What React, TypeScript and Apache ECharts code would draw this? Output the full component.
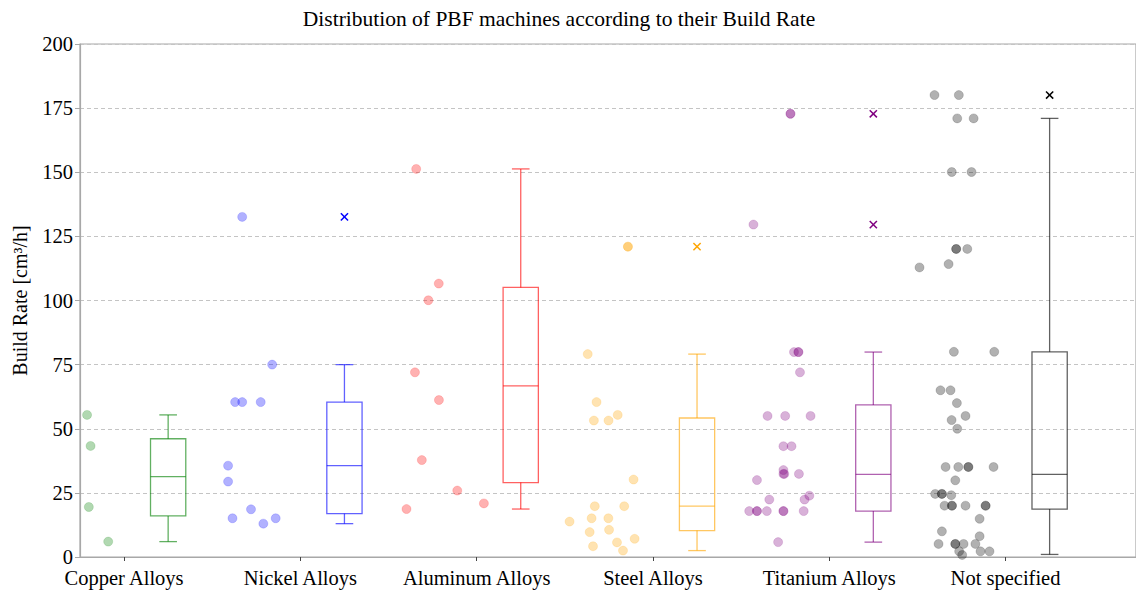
import React, { useEffect, useRef } from "react";
import * as echarts from "echarts";

const categories = [
  "Copper Alloys",
  "Nickel Alloys",
  "Aluminum Alloys",
  "Steel Alloys",
  "Titanium Alloys",
  "Not specified",
];

const yTicks = [0, 25, 50, 75, 100, 125, 150, 175, 200];

// Scatter values (Build Rate, cm³/h) and their horizontal jitter around each category
const copperValues = [55.4, 43.3, 19.5, 6.0];
const copperJitter = [-0.21, -0.19, -0.2, -0.09];

const nickelValues = [132.6, 75.0, 60.4, 60.4, 60.4, 35.6, 29.4, 18.6, 15.1, 15.1, 13.0];
const nickelJitter = [-0.33, -0.16, -0.37, -0.33, -0.225, -0.41, -0.41, -0.28, -0.385, -0.14, -0.21];

const aluminumValues = [151.3, 106.6, 100.1, 72.0, 61.2, 37.8, 25.9, 20.9, 18.7];
const aluminumJitter = [-0.343, -0.215, -0.274, -0.35, -0.214, -0.311, -0.11, 0.041, -0.398];

const steelValues = [121.0, 121.0, 79.1, 60.4, 55.4, 53.2, 53.2, 30.2, 19.8, 19.8, 13.8, 15.1, 15.1, 9.7, 10.6, 7.1, 4.2, 5.7, 2.5];
const steelJitter = [-0.142, -0.142, -0.37, -0.32, -0.2, -0.335, -0.252, -0.11, -0.33, -0.163, -0.473, -0.348, -0.253, -0.359, -0.249, -0.104, -0.34, -0.204, -0.17];

const titaniumValues = [
  172.8, 172.8, 129.6, 79.9, 79.9, 79.9, 72.0, 55.0, 55.0, 55.0, 43.2, 43.2, 33.9, 32.4, 32.4, 32.4,
  30.0, 22.4, 22.4, 23.9, 17.9, 17.9, 17.9, 17.9, 17.9, 17.9, 17.9, 5.8,
];
const titaniumJitter = [
  -0.22, -0.22, -0.43, -0.2, -0.175, -0.175, -0.166, -0.35, -0.25, -0.106, -0.26, -0.214, -0.26, -0.26, -0.255, -0.172,
  -0.41, -0.34, -0.14, -0.113, -0.454, -0.41, -0.41, -0.354, -0.26, -0.26, -0.145, -0.29,
];

const notSpecifiedValues = [
  180.1, 180.1, 171.0, 171.0, 150.1, 150.1, 120.1, 120.1, 120.1, 114.2, 112.9, 80.0, 80.0, 65.0, 65.0, 60.0,
  55.0, 53.4, 50.0, 35.1, 35.1, 35.1, 35.1, 35.1, 29.9, 24.6, 24.6, 24.6, 24.1, 20.0, 20.0, 20.0, 20.0, 20.0,
  20.0, 14.9, 10.0, 8.1, 5.1, 5.1, 5.1, 5.1, 5.1, 2.2, 2.2, 2.2, 0.8,
];
const notSpecifiedJitter = [
  -0.403, -0.265, -0.274, -0.181, -0.305, -0.193, -0.28, -0.28, -0.217, -0.323, -0.488, -0.293, -0.064, -0.369, -0.312, -0.276,
  -0.227, -0.306, -0.274, -0.34, -0.268, -0.211, -0.211, -0.068, -0.285, -0.399, -0.361, -0.361, -0.308, -0.346, -0.304, -0.304, -0.227, -0.113,
  -0.113, -0.147, -0.361, -0.147, -0.38, -0.285, -0.285, -0.238, -0.171, -0.263, -0.142, -0.091, -0.246,
];

// Box statistics: [lower whisker, Q1, median, Q3, upper whisker]
const copperBox = [6.0, 16.0, 31.3, 46.1, 55.4];
const nickelBox = [13.0, 16.9, 35.6, 60.4, 75.0];
const aluminumBox = [18.7, 29.0, 66.7, 105.1, 151.3];
const steelBox = [2.5, 10.3, 19.8, 54.2, 79.1];
const titaniumBox = [5.8, 17.9, 32.2, 59.3, 79.9];
const notSpecifiedBox = [1.0, 18.7, 32.2, 80.0, 171.0];

// Outliers (x markers): category index and value
const outlierCategory = [1, 3, 4, 4, 5];
const outlierValues = [132.6, 121.0, 172.8, 129.6, 180.1];

const colors = ["#008000", "#0000ff", "#ff0000", "#ffa500", "#800080", "#000000"];

const FONT = "'Liberation Serif', 'Times New Roman', serif";
const BOX_OFFSET = 0.25;
const BOX_WIDTH = 0.2;
const CAP_WIDTH = 0.1;

function rgba(hex: string, a: number) {
  const r = parseInt(hex.slice(1, 3), 16);
  const g = parseInt(hex.slice(3, 5), 16);
  const b = parseInt(hex.slice(5, 7), 16);
  return `rgba(${r},${g},${b},${a})`;
}

export default function App() {
  const ref = useRef<HTMLDivElement>(null);

  useEffect(() => {
    if (!ref.current) return;
    const chart = echarts.init(ref.current, null, { renderer: "svg" });

    const groups: [number[], number[]][] = [
      [copperValues, copperJitter],
      [nickelValues, nickelJitter],
      [aluminumValues, aluminumJitter],
      [steelValues, steelJitter],
      [titaniumValues, titaniumJitter],
      [notSpecifiedValues, notSpecifiedJitter],
    ];
    const boxes = [copperBox, nickelBox, aluminumBox, steelBox, titaniumBox, notSpecifiedBox];
    const catIdx = categories.map((_, i) => i);

    const scatterSeries = groups.map(([vals, jit], i) => ({
      type: "scatter",
      name: categories[i],
      data: vals.map((v, k) => [i + jit[k], v]),
      symbol: "circle",
      symbolSize: 9,
      itemStyle: {
        color: rgba(colors[i], 0.38),
        borderColor: rgba(colors[i], 0.25),
        borderWidth: 0.8,
      },
      z: 3,
      silent: true,
    }));

    const boxSeries = {
      type: "custom",
      data: boxes.map((s, i) => [i + BOX_OFFSET, ...s]),
      encode: { x: 0, y: [1, 2, 3, 4, 5] },
      silent: true,
      z: 4,
      renderItem: (params: any, api: any) => {
        const i = params.dataIndex;
        const x = api.value(0);
        const vals = [1, 2, 3, 4, 5].map((k) => api.value(k));
        const pts = vals.map((v) => api.coord([x, v]));
        const cx = pts[0][0];
        const halfW = api.size([BOX_WIDTH, 0])[0] / 2;
        const capHalf = api.size([CAP_WIDTH, 0])[0] / 2;
        const style = { stroke: rgba(colors[i], 0.62), lineWidth: 1.3, fill: "none" };
        const [pMin, pQ1, pMed, pQ3, pMax] = pts;
        return {
          type: "group",
          children: [
            { type: "rect", shape: { x: cx - halfW, y: pQ3[1], width: halfW * 2, height: pQ1[1] - pQ3[1] }, style },
            { type: "line", shape: { x1: cx - halfW, y1: pMed[1], x2: cx + halfW, y2: pMed[1] }, style },
            { type: "line", shape: { x1: cx, y1: pQ3[1], x2: cx, y2: pMax[1] }, style },
            { type: "line", shape: { x1: cx, y1: pQ1[1], x2: cx, y2: pMin[1] }, style },
            { type: "line", shape: { x1: cx - capHalf, y1: pMax[1], x2: cx + capHalf, y2: pMax[1] }, style },
            { type: "line", shape: { x1: cx - capHalf, y1: pMin[1], x2: cx + capHalf, y2: pMin[1] }, style },
          ],
        };
      },
    };

    const outlierSeries = {
      type: "custom",
      data: outlierValues.map((v, k) => [outlierCategory[k] + BOX_OFFSET, v, outlierCategory[k]]),
      encode: { x: 0, y: 1 },
      silent: true,
      z: 5,
      renderItem: (params: any, api: any) => {
        const p = api.coord([api.value(0), api.value(1)]);
        const c = colors[api.value(2)];
        const h = 3.6;
        const style = { stroke: c, lineWidth: 1.5 };
        return {
          type: "group",
          children: [
            { type: "line", shape: { x1: p[0] - h, y1: p[1] - h, x2: p[0] + h, y2: p[1] + h }, style },
            { type: "line", shape: { x1: p[0] - h, y1: p[1] + h, x2: p[0] + h, y2: p[1] - h }, style },
          ],
        };
      },
    };

    chart.setOption({
      animation: false,
      backgroundColor: "#ffffff",
      title: {
        text: "Distribution of PBF machines according to their Build Rate",
        left: 554,
        top: 3,
        textAlign: "center",
        textStyle: { fontFamily: FONT, fontSize: 21.5, fontWeight: "normal", color: "#000" },
      },
      grid: {
        left: 80,
        right: 0,
        top: 44,
        bottom: 35,
        show: true,
        borderColor: "#a8a8a8",
        borderWidth: 1.2,
        backgroundColor: "transparent",
      },
      xAxis: {
        type: "value",
        min: -0.25,
        max: 5.74,
        axisLine: { show: true, onZero: false, lineStyle: { color: "#a8a8a8", width: 1.2 } },
        splitLine: { show: false },
        axisTick: { show: true, customValues: catIdx, length: 4, lineStyle: { color: "#444" } },
        axisLabel: {
          customValues: catIdx,
          formatter: (v: number) => categories[Math.round(v)] ?? "",
          fontFamily: FONT,
          fontSize: 20.5,
          lineHeight: 18,
          color: "#000",
          margin: 12,
        },
      },
      yAxis: {
        type: "value",
        min: 0,
        max: 200,
        interval: 25,
        name: "Build Rate [cm³/h]",
        nameLocation: "middle",
        nameGap: 50,
        nameTextStyle: { fontFamily: FONT, fontSize: 20, color: "#000" },
        axisLine: { show: true, onZero: false, lineStyle: { color: "#a8a8a8", width: 1.2 } },
        axisTick: { show: true, length: 5, lineStyle: { color: "#a8a8a8" } },
        axisLabel: {
          fontFamily: FONT,
          fontSize: 20.5,
          lineHeight: 15,
          color: "#000",
          margin: 7,
          formatter: (v: number) => (yTicks.includes(v) ? String(v) : ""),
        },
        splitLine: { show: true, lineStyle: { type: [4, 3], color: "#c4c4c4", width: 1 } },
      },
      series: [...scatterSeries, boxSeries, outlierSeries],
    });

    return () => chart.dispose();
  }, []);

  return (
    <div
      ref={ref}
      style={{ position: "fixed", left: 0, top: 0, width: 1136, height: 592, background: "#fff" }}
    />
  );
}
